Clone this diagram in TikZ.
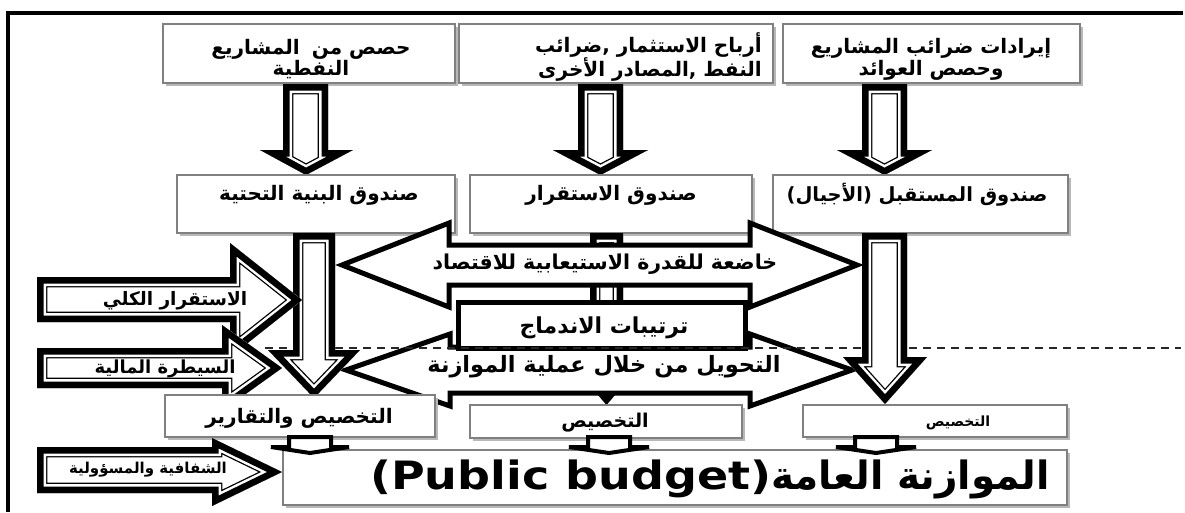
\documentclass[tikz,border=0pt]{standalone}
\usepackage{fontspec}
\usetikzlibrary{shadows}
\TeXXeTstate=1
\newfontfamily\arabicfont[Script=Arabic]{DejaVu Sans}
\newfontfamily\latinfont{DejaVu Sans}
\newcommand\ar[1]{{\arabicfont\bfseries\beginR #1\endR}}
\newcommand\fs[2]{\fontsize{#1}{#2}\selectfont}
\newcommand\dblarrow[1]{%
  \fill[white] #1;
  \begin{scope}
    \clip #1;
    \draw[line width=20.6pt, line join=miter] #1;
    \draw[white, line width=18pt, line join=miter] #1;
    \draw[line width=13pt, line join=miter] #1;
  \end{scope}}
\tikzset{
  gbox/.style={rectangle, draw=black!50, line width=1.6pt, fill=white, inner sep=0pt,
    drop shadow={shadow xshift=2.5pt, shadow yshift=-2.5pt, fill=black!28, opacity=1}},
  blk/.style={draw=black, line width=5pt, fill=white, line join=miter},
  tinyarr/.style={draw=black, line width=4pt, fill=white, line join=miter},
  txt/.style={inner sep=0pt, align=center},
  dashline/.style={line width=1.2pt, dash pattern=on 8pt off 6pt, black!85},
  framel/.style={line width=4pt, line join=miter}
}
\begin{document}
\begin{tikzpicture}[x=1pt,y=-1pt]
\useasboundingbox (0,0) rectangle (1185,512);
% frame
\draw[framel] (7.5,512) -- (7.5,12.5) -- (1183,12.5);

% top boxes
\node[gbox, minimum width=292pt, minimum height=59pt] (b1) at (309,53.5) {};
\node[gbox, minimum width=314pt, minimum height=59pt] (b2) at (616,53.5) {};
\node[gbox, minimum width=297pt, minimum height=59pt] (b3) at (931.5,53.5) {};
\node[txt, font={\fs{20}{21}}] (tb1) at (311,59) {\ar{حصص من\hspace{12pt}المشاريع}\\\ar{النفطية}};
\node[txt, align=right, anchor=east, font={\fs{20}{21}}] (tb2) at (762,57) {\ar{أرباح الاستثمار ,ضرائب}\\\ar{النفط ,المصادر الأخرى}};
\node[txt, font={\fs{20}{22}}] (tb3) at (931,59) {\ar{إيرادات ضرائب المشاريع}\\\ar{وحصص العوائد}};

% top arrows
\dblarrow{(283,84) -- (328,84) -- (328,150) -- (353,150) -- (306,175) -- (260,150) -- (283,150) -- cycle}
\dblarrow{(578,84) -- (623,84) -- (623,150) -- (648,150) -- (600.5,175) -- (553,150) -- (578,150) -- cycle}
\dblarrow{(862,84) -- (907,84) -- (907,150) -- (932,150) -- (884.5,175) -- (837,150) -- (862,150) -- cycle}

% middle boxes
\node[gbox, minimum width=278pt, minimum height=58pt] (m1) at (316,204) {};
\node[gbox, minimum width=282pt, minimum height=58pt] (m2) at (611,204) {};
\node[gbox, minimum width=295pt, minimum height=58pt] (m3) at (920.5,204) {};
\node[txt, font={\fs{20}{20}}] (tm1) at (319,195) {\ar{صندوق البنية التحتية}};
\node[txt, font={\fs{20}{20}}] (tm2) at (611,195) {\ar{صندوق الاستقرار}};
\node[txt, font={\fs{19.5}{20}}] (tm3) at (917,195) {\ar{صندوق المستقبل (الأجيال)}};

% central hidden arrow
\dblarrow{(590,233) -- (623,233) -- (623,358) -- (646,358) -- (606.5,405) -- (567,358) -- (590,358) -- cycle}

% double-headed arrows
\draw[blk] (342,265) -- (449,223) -- (449,245) -- (750,245) -- (750,223) -- (857,265) -- (750,307) -- (750,285) -- (449,285) -- (449,307) -- cycle;
\node[txt, font={\fs{20.5}{20}}] (tua) at (605,264) {\ar{خاضعة للقدرة الاستيعابية للاقتصاد}};
\draw[blk] (346,370) -- (450,334) -- (450,347) -- (750,347) -- (750,334) -- (852,370) -- (750,406) -- (750,393) -- (450,393) -- (450,406) -- cycle;
\node[txt, font={\fs{22.5}{22}}] (tla) at (604,367) {\ar{التحويل من خلال عملية الموازنة}};
\node[blk, minimum width=287pt, minimum height=46pt, inner sep=0pt] (tr) at (601.5,325) {};
\node[txt, font={\fs{22}{22}}] (ttr) at (604,328) {\ar{ترتيبات الاندماج}};

% dashed line
\draw[dashline] (265,348) -- (1181,348);

% lower vertical arrows
\dblarrow{(293,233) -- (335,233) -- (335,350) -- (360,350) -- (314,398) -- (268,350) -- (293,350) -- cycle}
\dblarrow{(862,233) -- (907,233) -- (907,357) -- (927,357) -- (885,404) -- (843,357) -- (862,357) -- cycle}

% left arrows
\dblarrow{(37,277) -- (230,277) -- (230,243) -- (302,300) -- (230,357) -- (230,322) -- (37,322) -- cycle}
\node[txt, font={\fs{18.5}{18}}] (ta1) at (175,301) {\ar{الاستقرار الكلي}};
\dblarrow{(37,348) -- (222,348) -- (222,325) -- (282,368) -- (222,411) -- (222,388) -- (37,388) -- cycle}
\node[txt, font={\fs{18}{18}}] (ta2) at (165,369) {\ar{السيطرة المالية}};

% bottom boxes
\node[gbox, minimum width=270pt, minimum height=42pt] (c1) at (300,416) {};
\node[gbox, minimum width=272pt, minimum height=33pt] (c2) at (606,421.5) {};
\node[gbox, minimum width=264pt, minimum height=32pt] (c3) at (935,421) {};
\node[txt, font={\fs{20}{20}}] (tc1) at (299,418) {\ar{التخصيص والتقارير}};
\node[txt, font={\fs{19}{19}}] (tc2) at (605,423) {\ar{التخصيص}};
\node[txt, font={\fs{14}{14}}] (tc3) at (958,423) {\ar{التخصيص}};

% public budget box
\node[gbox, minimum width=784pt, minimum height=55pt] (pb) at (675,477.5) {};
\node[txt] (tpb) at (710,479) {\fs{39}{40}\ar{الموازنة العامة\beginL{\latinfont\bfseries\fs{39}{40}\addfontfeature{FakeStretch=1.18}(Public budget)}\endL}};

% small arrows into public budget
\draw[tinyarr] (289,437) -- (331,437) -- (331,447) -- (349,447) -- (310,453) -- (271,447) -- (289,447) -- cycle;
\draw[tinyarr] (588,437) -- (630,437) -- (630,447) -- (649,447) -- (609,453) -- (569,447) -- (588,447) -- cycle;
\draw[tinyarr] (855,437) -- (897,437) -- (897,447) -- (916,447) -- (876,453) -- (836,447) -- (855,447) -- cycle;

% third left arrow
\dblarrow{(37,447) -- (212,447) -- (212,438) -- (282,472) -- (212,506) -- (212,493) -- (37,493) -- cycle}
\node[txt, font={\fs{15}{15}}] (ta3) at (148,470) {\ar{الشفافية والمسؤولية}};
\end{tikzpicture}
\end{document}
